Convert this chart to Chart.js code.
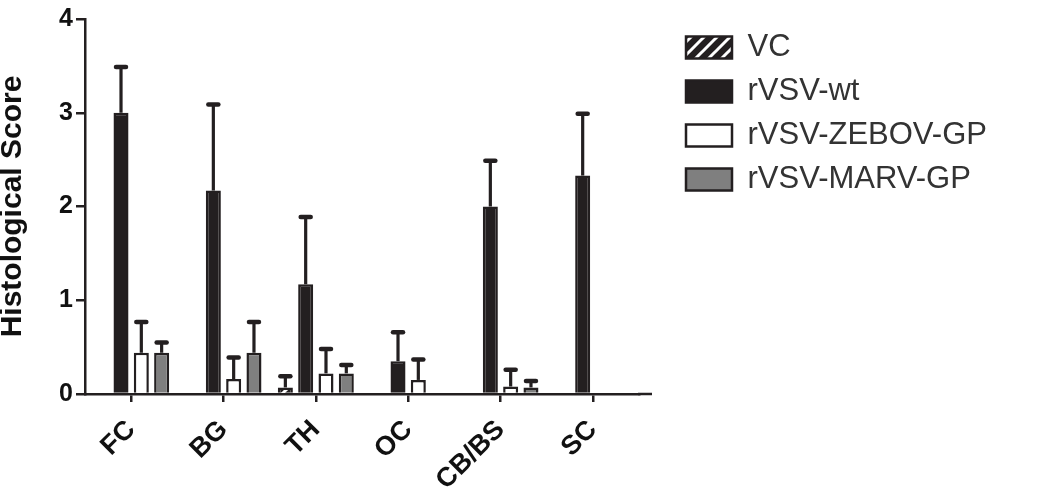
<!DOCTYPE html>
<html>
<head>
<meta charset="utf-8">
<script src="https://cdn.jsdelivr.net/npm/chart.js@4.4.1/dist/chart.umd.min.js"></script>
<style>
  html, body { margin: 0; padding: 0; background: #fff; }
  #wrap { width: 1046px; height: 494px; }
</style>
</head>
<body>
<div id="wrap"><canvas id="histoChart" width="1046" height="494"></canvas></div>
<script>
// datos
const regiones = ['FC', 'BG', 'TH', 'OC', 'CB/BS', 'SC'];
const vc       = [null, null, 0.07, null, null, null];
const vcErr    = [null, null, 0.13, null, null, null];
const wt       = [3.0, 2.17, 1.17, 0.35, 2.0, 2.33];
const wtErr    = [0.5, 0.93, 0.73, 0.32, 0.5, 0.67];
const zebov    = [0.44, 0.16, 0.22, 0.15, 0.08, null];
const zebovErr = [0.34, 0.24, 0.27, 0.23, 0.19, null];
const marv     = [0.44, 0.44, 0.22, null, 0.07, null];
const marvErr  = [0.12, 0.34, 0.1, null, 0.08, null];
const yTicks   = [0, 1, 2, 3, 4];

const negro = '#231f20';
const fuente = '"Liberation Sans", Arial, Helvetica, sans-serif';

// patron rayado para VC
function rayado() {
    const n = 13;
    const c = document.createElement('canvas');
    c.width = n; c.height = n;
    const g = c.getContext('2d');
    g.fillStyle = negro;
    g.fillRect(0, 0, n, n);
    g.strokeStyle = '#fff';
    g.lineWidth = 3;
    g.beginPath();
    g.moveTo(-1, n + 1); g.lineTo(n + 1, -1);
    g.moveTo(-2, 2); g.lineTo(2, -2);
    g.moveTo(n - 2, n + 2); g.lineTo(n + 2, n - 2);
    g.stroke();
    return g.createPattern(c, 'repeat');
}

// barras de error (solo hacia arriba) + ajustes de la leyenda
const errorBars = {
    id: 'errorBars',
    beforeLayout(chart) {
        const lg = chart.legend;
        if (lg && !lg._anchoFijo) {
            const fit = lg.fit.bind(lg);
            lg.fit = function () { fit(); this.width = 407; };
            lg._anchoFijo = true;
        }
    },
    afterLayout(chart) {
        // separar la leyenda del area del grafico
        if (chart.legend) {
            chart.legend.left = chart.chartArea.right + 34;
            chart.legend.right = 1046;
        }
    },
    afterDatasetsDraw(chart) {
        const ctx = chart.ctx;
        const y = chart.scales.y;
        chart.data.datasets.forEach((ds, i) => {
            const meta = chart.getDatasetMeta(i);
            meta.data.forEach((bar, j) => {
                const v = ds.data[j];
                const e = ds.errores[j];
                if (v == null || e == null) return;
                const y0 = y.getPixelForValue(v);
                const y1 = y.getPixelForValue(v + e);
                ctx.save();
                ctx.strokeStyle = negro;
                ctx.lineWidth = 3.2;
                ctx.beginPath();
                ctx.moveTo(bar.x, y0);
                ctx.lineTo(bar.x, y1);
                ctx.stroke();
                ctx.lineWidth = 4.5;
                ctx.lineCap = 'round';
                ctx.beginPath();
                ctx.moveTo(bar.x - 5, y1 + 1);
                ctx.lineTo(bar.x + 5, y1 + 1);
                ctx.stroke();
                ctx.restore();
            });
        });
    },
    afterDraw(chart) {
        // el eje x sigue un poco despues de la ultima categoria
        const a = chart.chartArea;
        const ctx = chart.ctx;
        ctx.save();
        ctx.strokeStyle = negro;
        ctx.lineWidth = 2.5;
        ctx.beginPath();
        ctx.moveTo(a.right - 1, a.bottom);
        ctx.lineTo(a.right + 13, a.bottom);
        ctx.stroke();
        ctx.restore();
    }
};

const ctx = document.getElementById('histoChart').getContext('2d');
new Chart(ctx, {
    type: 'bar',
    data: {
        labels: regiones,
        datasets: [
            { label: 'VC', data: vc, errores: vcErr, backgroundColor: rayado(), borderColor: negro, borderWidth: 2.5 },
            { label: 'rVSV-wt', data: wt, errores: wtErr, backgroundColor: negro, borderColor: negro, borderWidth: 2.5 },
            { label: 'rVSV-ZEBOV-GP', data: zebov, errores: zebovErr, backgroundColor: '#ffffff', borderColor: negro, borderWidth: 2.5 },
            { label: 'rVSV-MARV-GP', data: marv, errores: marvErr, backgroundColor: '#7f7f7f', borderColor: negro, borderWidth: 2.5 }
        ]
    },
    options: {
        responsive: false,
        animation: false,
        devicePixelRatio: 1,
        layout: { padding: { left: 0, top: 19, right: 0, bottom: 0 } },
        datasets: {
            bar: { categoryPercentage: 0.88, barPercentage: 0.74, borderSkipped: 'start' }
        },
        plugins: {
            tooltip: { enabled: false },
            legend: {
                position: 'right',
                align: 'start',
                labels: {
                    boxWidth: 46,
                    boxHeight: 22,
                    padding: 13,
                    color: '#333',
                    font: { family: fuente, size: 31 }
                }
            }
        },
        scales: {
            x: {
                offset: true,
                border: { display: true, color: negro, width: 2.5 },
                grid: { display: true, offset: false, drawOnChartArea: false, drawTicks: true, tickLength: 8, color: negro, lineWidth: 2.5 },
                ticks: {
                    color: '#111',
                    font: { family: fuente, size: 27, weight: 'bold' },
                    maxRotation: 45, minRotation: 45,
                    padding: 12
                },
                afterFit(scale) { scale.height = 100; }
            },
            y: {
                min: 0, max: 4,
                afterBuildTicks(scale) { scale.ticks = yTicks.map(v => ({ value: v })); },
                border: { display: true, color: negro, width: 2.5 },
                grid: { display: true, drawOnChartArea: false, drawTicks: true, tickLength: 9, color: negro, lineWidth: 2.5 },
                ticks: {
                    color: '#111',
                    font: { family: fuente, size: 25, weight: 'bold' },
                    padding: 3
                },
                title: {
                    display: true,
                    text: 'Histological Score',
                    color: '#111',
                    font: { family: fuente, size: 30, weight: 'bold' },
                    padding: { top: -5, bottom: 0 }
                },
                afterFit(scale) { scale.width = 85; }
            }
        }
    },
    plugins: [errorBars]
});
</script>
</body>
</html>
